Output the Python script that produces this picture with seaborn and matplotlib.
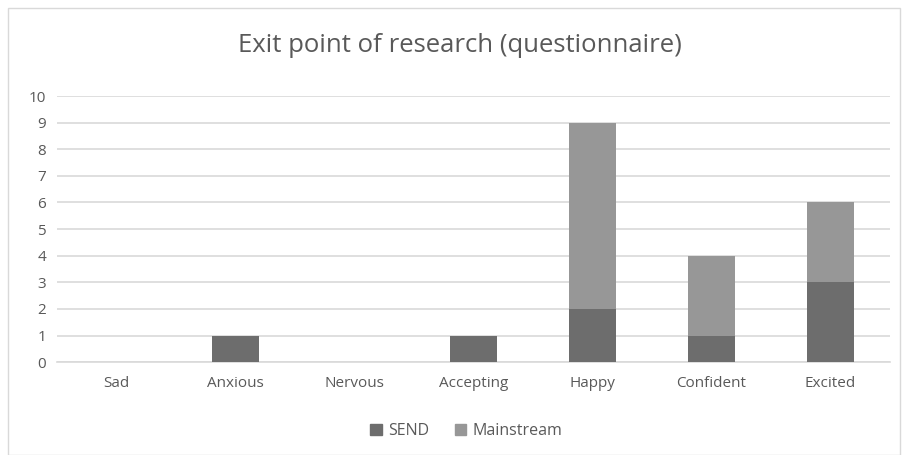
import pandas as pd
import matplotlib.pyplot as plt
import seaborn as sns
from matplotlib.patches import Rectangle, Patch

# Data
categories = ['Sad', 'Anxious', 'Nervous', 'Accepting', 'Happy', 'Confident', 'Excited']
send = [0, 1, 0, 1, 2, 1, 3]
mainstream = [0, 0, 0, 0, 7, 3, 3]

df = pd.DataFrame({'Emotion': categories, 'SEND': send, 'Mainstream': mainstream})
df['Total'] = df['SEND'] + df['Mainstream']

sns.set_style('white')
plt.rcParams['font.family'] = ['Open Sans', 'DejaVu Sans']
text_col = '#595959'
send_col = '#6d6d6d'
main_col = '#979797'

fig = plt.figure(figsize=(9.07, 4.55), dpi=100)
ax = fig.add_axes([0.063, 0.204, 0.918, 0.585])

# stacked: draw totals (Mainstream on top) then SEND over them
sns.barplot(data=df, x='Emotion', y='Total', color=main_col, width=0.4,
            saturation=1, linewidth=0, ax=ax, zorder=3)
sns.barplot(data=df, x='Emotion', y='SEND', color=send_col, width=0.4,
            saturation=1, linewidth=0, ax=ax, zorder=4)

ax.set_ylim(0, 10)
ax.set_yticks(range(0, 11))
ax.yaxis.grid(True, color='#d9d9d9', linewidth=1.2, zorder=0)
ax.set_xlabel('')
ax.set_ylabel('')
for s in ['top', 'right', 'left']:
    ax.spines[s].set_visible(False)
ax.spines['bottom'].set_color('#d9d9d9')
ax.spines['bottom'].set_linewidth(1.2)
ax.tick_params(axis='both', length=0, labelsize=11, colors=text_col, pad=8)
ax.tick_params(axis='x', pad=10)

fig.text(0.507, 0.9, 'Exit point of research (questionnaire)', ha='center',
         va='center', fontsize=18.5, color=text_col)

handles = [Patch(color=send_col, label='SEND'), Patch(color=main_col, label='Mainstream')]
fig.legend(handles=handles, loc='center', bbox_to_anchor=(0.514, 0.052), ncol=2,
           frameon=False, fontsize=11.5, labelcolor=text_col, handlelength=0.7,
           handleheight=0.7, columnspacing=1.6, handletextpad=0.4)

fig.patches.append(Rectangle((8 / 907, 0), 892 / 907, 1 - 8 / 455,
                             transform=fig.transFigure, fill=False,
                             edgecolor='#d9d9d9', linewidth=1))

plt.savefig('out.png', dpi=100)
